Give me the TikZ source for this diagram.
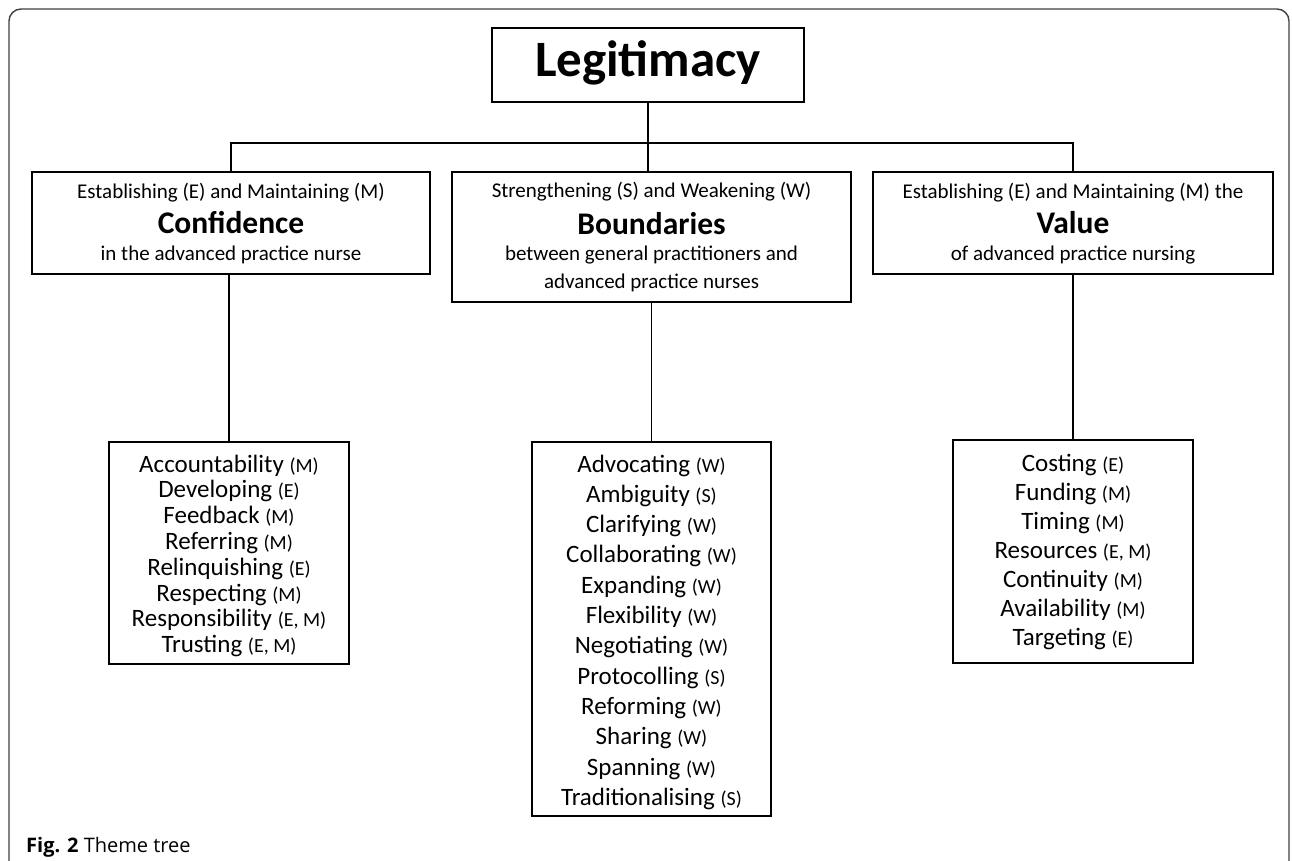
\documentclass[tikz,border=0pt]{standalone}
\usepackage{fontspec}
\setmainfont{Carlito}
\newfontfamily\capfont{Open Sans}
\newcommand\pp[1]{{\fontsize{20}{20}\selectfont(#1)}}
\begin{document}
\begin{tikzpicture}[x=1pt,y=-1pt,
  box/.style={draw=black, line width=1.6pt, rectangle, inner sep=0pt},
  wire/.style={draw=black, line width=1.5pt},
  headtop/.style={font=\fontsize{21}{21}\selectfont, inner sep=0pt},
  headbig/.style={font=\fontsize{31.5}{31.5}\selectfont\bfseries, inner sep=0pt},
  item/.style={font=\fontsize{25}{25}\selectfont, inner sep=0pt, anchor=base}
]
\useasboundingbox (0,0) rectangle (1292,860);
% outer frame
\draw[black!75, line width=1.4pt, rounded corners=12pt] (9,862) -- (9,9) -- (1289,9) -- (1289,862);

% top box
\node[box, minimum width=312pt, minimum height=74pt] (legit) at (648,65) {};
\node[inner sep=0pt, font=\fontsize{51}{51}\selectfont\bfseries] (legitt) at (648,63) {Legitimacy};

% level 2 boxes
\node[box, minimum width=398pt, minimum height=102pt] (conf) at (231,223) {};
\node[box, minimum width=399pt, minimum height=130pt] (bound) at (651.5,237) {};
\node[box, minimum width=400pt, minimum height=102pt] (val) at (1073,223) {};

\node[headtop] (conf1) at (231,193) {Establishing (E) and Maintaining (M)};
\node[headbig] (conf2) at (231,223) {Confidence};
\node[headtop] (conf3) at (231,255) {in the advanced practice nurse};

\node[headtop] (bound1) at (651.5,192) {Strengthening (S) and Weakening (W)};
\node[headbig] (bound2) at (651.5,224) {Boundaries};
\node[headtop] (bound3) at (651.5,255) {between general practitioners and};
\node[headtop] (bound4) at (651.5,283) {advanced practice nurses};

\node[headtop] (val1) at (1073,193) {Establishing (E) and Maintaining (M) the};
\node[headbig] (val2) at (1073,223) {Value};
\node[headtop] (val3) at (1073,255) {of advanced practice nursing};

% level 3 boxes
\node[box, minimum width=240pt, minimum height=222pt] (clist) at (229,553) {};
\node[box, minimum width=239pt, minimum height=374pt] (blist) at (651.5,629) {};
\node[box, minimum width=240pt, minimum height=223pt] (vlist) at (1073,551.5) {};

% connectors
\coordinate (bar) at (648,143);
\draw[wire] (legit.south) -- (legit.south |- bar);
\draw[wire] (conf.north) -- (conf.north |- bar) -- (val.north |- bar) -- (val.north);
\draw[wire] (bound.north -| bar) -- (bar);
\draw[wire] (conf.south -| clist.north) -- (clist.north);
\draw[wire] (bound.south -| blist.north) -- (blist.north);
\draw[wire] (val.south) -- (vlist.north);

% confidence list
\foreach \t [count=\i from 0] in {Accountability \pp{M},Developing \pp{E},Feedback \pp{M},Referring \pp{M},Relinquishing \pp{E},Respecting \pp{M},Responsibility \pp{E, M},Trusting \pp{E, M}}
  \node[item] (c\i) at (229,472+25.8*\i) {\t};

% boundaries list
\foreach \t [count=\i from 0] in {Advocating \pp{W},Ambiguity \pp{S},Clarifying \pp{W},Collaborating \pp{W},Expanding \pp{W},Flexibility \pp{W},Negotiating \pp{W},Protocolling \pp{S},Reforming \pp{W},Sharing \pp{W},Spanning \pp{W},Traditionalising \pp{S}}
  \node[item] (b\i) at (651.5,472+30.3*\i) {\t};

% value list
\foreach \t [count=\i from 0] in {Costing \pp{E},Funding \pp{M},Timing \pp{M},Resources \pp{E, M},Continuity \pp{M},Availability \pp{M},Targeting \pp{E}}
  \node[item] (v\i) at (1073,471+29*\i) {\t};

% caption
\node[anchor=base west, inner sep=0pt, font=\capfont\fontsize{20}{20}\selectfont] (cap) at (26,852) {\textbf{Fig. 2} Theme tree};
\end{tikzpicture}
\end{document}
